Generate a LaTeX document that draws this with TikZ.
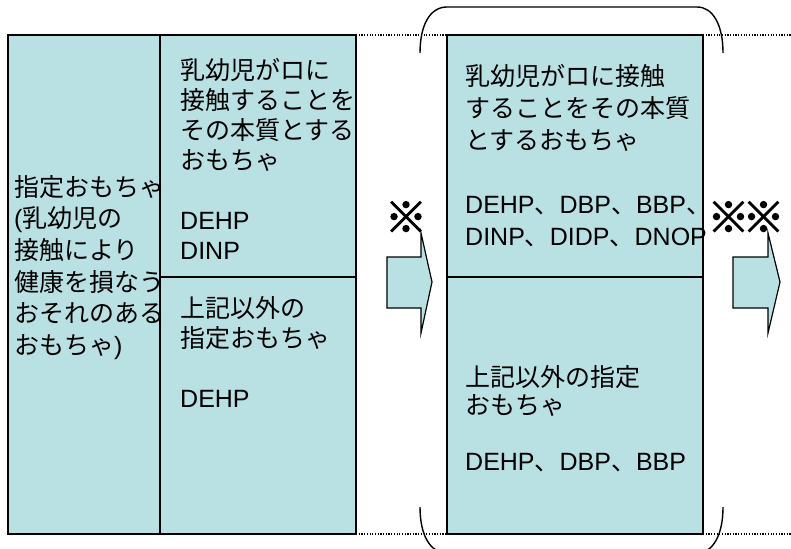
\documentclass[tikz,border=0pt]{standalone}
\usepackage{fontspec}
\setmainfont{Liberation Sans}
\newfontfamily\jp{Noto Sans CJK JP}
\newfontfamily\jpmark{Noto Sans CJK JP}[FakeBold=2.5]
\usetikzlibrary{scopes}
\definecolor{toyblue}{RGB}{185,225,228}
\newcommand\lat[1]{{\rmfamily #1}}

\begin{document}
\begin{tikzpicture}[x=1pt,y=-1pt,
    cell/.style={draw,fill=toyblue,line width=1.4pt,anchor=north west,inner sep=0,outer sep=0},
    txt/.style={anchor=base west,align=left,inner sep=0,font=\jp\fontsize{25}{30}\selectfont},
    notemark/.style={font=\jpmark\fontsize{42}{42}\selectfont,inner sep=0}]
\useasboundingbox (0,0) rectangle (791,548);
\coordinate (topR) at (791,35);
\coordinate (botR) at (791,534);

% cells
\node[cell,minimum width=152pt,minimum height=499pt] (toys) at (8,35) {};
\node[cell,minimum width=196pt,minimum height=242pt] (mouthA) at (160,35) {};
\node[cell,minimum width=196pt,minimum height=257pt] (otherA) at (160,277) {};
\node[cell,minimum width=256pt,minimum height=242pt] (mouthB) at (447,35) {};
\node[cell,minimum width=256pt,minimum height=257pt] (otherB) at (447,277) {};

\begin{scope}[line width=1.1pt,dash pattern=on 1.2pt off 1.5pt]
    \draw (mouthA.north east) -- (mouthB.north west);
    \draw (mouthB.north east) -- (topR);
    \draw (otherA.south east) -- (otherB.south west);
    \draw (otherB.south east) -- (botR);
\end{scope}

% bracket
\begin{scope}[line width=1.4pt]
    \draw (420,53) .. controls (420,25) and (430,7) .. (447,7) -- (697,7)
          .. controls (713,7) and (723,25) .. (723,53);
    \draw (420,507) .. controls (420,535) and (430,553) .. (447,553) -- (697,553)
          .. controls (713,553) and (723,535) .. (723,507);
\end{scope}

% arrows
\begin{scope}[every path/.style={draw,fill=toyblue,line width=1.2pt,line join=miter}]
    \path (387,257) -- (421,257) -- (421,233) -- (432,282) -- (421,333) -- (421,308) -- (387,308) -- cycle;
    \path (733,257) -- (768,257) -- (768,233) -- (780,282) -- (768,333) -- (768,308) -- (733,308) -- cycle;
\end{scope}

\node[notemark] (note1) at (406,217) {※};
\node[notemark] (note2) at (746,217) {※\hspace{-7pt}※};

% texts
\node[txt,font=\jp\fontsize{25}{31.7}\selectfont] (toysT) at (14,354.5)
    {指定おもちゃ\\\lat{(}乳幼児の\\接触により\\健康を損なう\\おそれのある\\おもちゃ\lat{)}};
\node[txt] (mouthAT) at (180,259.5)
    {乳幼児がロに\\接触することを\\その本質とする\\おもちゃ\\[30pt]\lat{DEHP}\\\lat{DINP}};
\node[txt] (otherAT) at (180,407)
    {上記以外の\\指定おもちゃ\\[30pt]\lat{DEHP}};
\node[txt,font=\jp\fontsize{25}{32}\selectfont] (mouthBT) at (465,245)
    {乳幼児がロに接触\\することをその本質\\とするおもちゃ\\[32pt]\lat{DEHP}、\lat{DBP}、\lat{BBP}、\\\lat{DINP}、\lat{DIDP}、\lat{DNOP}};
\node[txt,font=\jp\fontsize{25}{28}\selectfont] (otherBT) at (465,470)
    {上記以外の指定\\おもちゃ\\[28pt]\lat{DEHP}、\lat{DBP}、\lat{BBP}};
\end{tikzpicture}
\end{document}
